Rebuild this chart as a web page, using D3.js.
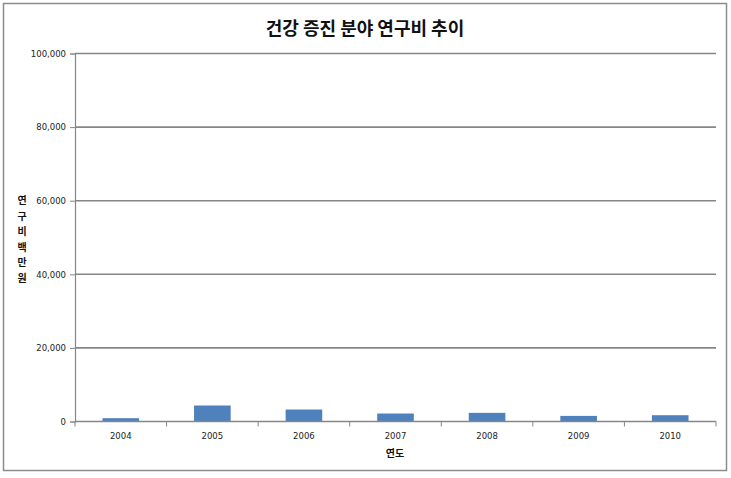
<!DOCTYPE html>
<html><head><meta charset="utf-8">
<script src="https://cdn.jsdelivr.net/npm/d3@7"></script>
<style>body{margin:0;background:#fff}svg{display:block}</style>
</head><body>
<script>
const years = ["2004","2005","2006","2007","2008","2009","2010"];
const values = [900, 4350, 3260, 2170, 2350, 1520, 1710];
const yTicks = [0, 20000, 40000, 60000, 80000, 100000];
const title = "건강 증진 분야 연구비 추이";
const yTitleChars = ["연","구","비","백","만","원"];
const xTitle = "연도";

const W = 731, H = 478;
const svg = d3.select("body").append("svg").attr("width", W).attr("height", H);
svg.append("rect").attr("x",3.5).attr("y",3.5).attr("width",723).attr("height",467)
  .attr("fill","#fff").attr("stroke","#8c8c8c").attr("stroke-width",1.5);

const L = 75, R = 716, T = 53.5, B = 421.5;
const x = d3.scaleBand().domain(years).range([L,R]).paddingInner(0.6).paddingOuter(0.3);
const xb = d3.scaleBand().domain(years).range([L,R]);
const y = d3.scaleLinear().domain([0,100000]).range([B,T]);

// gridlines
svg.append("g").selectAll("line").data(yTicks.filter(d=>d>0)).join("line")
  .attr("x1",L).attr("x2",R).attr("y1",d=>y(d)).attr("y2",d=>y(d))
  .attr("stroke","#868686").attr("stroke-width",1.6);

// y axis
const ya = svg.append("g").attr("transform",`translate(${L},0)`)
  .call(d3.axisLeft(y).tickValues(yTicks).tickSize(5).tickPadding(4).tickFormat(d3.format(",")));
ya.select(".domain").attr("stroke","#868686").attr("stroke-width",1.2);
ya.selectAll(".tick line").attr("stroke","#868686");
ya.selectAll("text").attr("font-family","DejaVu Sans, sans-serif").attr("font-size",8.5).attr("fill","#222");

// bars
svg.append("g").selectAll("rect").data(values).join("rect")
  .attr("x",(d,i)=>x(years[i])).attr("width",x.bandwidth())
  .attr("y",d=>y(d)).attr("height",d=>B-y(d)).attr("fill","#4F81BD");

// x axis
const xa = svg.append("g").attr("transform",`translate(0,${B})`);
xa.append("line").attr("x1",L).attr("x2",R).attr("stroke","#868686").attr("stroke-width",1.6);
xa.selectAll(".tk").data(d3.range(years.length+1)).join("line")
  .attr("x1",i=>L+i*xb.step()).attr("x2",i=>L+i*xb.step()).attr("y1",0).attr("y2",5)
  .attr("stroke","#868686");
xa.selectAll("text").data(years).join("text")
  .attr("x",d=>xb(d)+xb.bandwidth()/2).attr("y",17).attr("text-anchor","middle")
  .attr("font-family","DejaVu Sans, sans-serif").attr("font-size",8.5).attr("fill","#222").text(d=>d);

// titles
svg.append("text").attr("x",365).attr("y",35).attr("text-anchor","middle")
  .attr("font-family","Noto Sans CJK KR").attr("font-weight","bold").attr("font-size",18).attr("fill","#111").text(title);
svg.append("text").attr("x",395).attr("y",457).attr("text-anchor","middle")
  .attr("font-family","Noto Sans CJK KR").attr("font-weight","bold").attr("font-size",10).attr("fill","#111").text(xTitle);
svg.append("g").selectAll("text").data(yTitleChars).join("text")
  .attr("x",22).attr("y",(d,i)=>204+i*15.5).attr("text-anchor","middle")
  .attr("font-family","Noto Sans CJK KR").attr("font-weight","bold").attr("font-size",10).attr("fill","#111").text(d=>d);
</script>
</body></html>
